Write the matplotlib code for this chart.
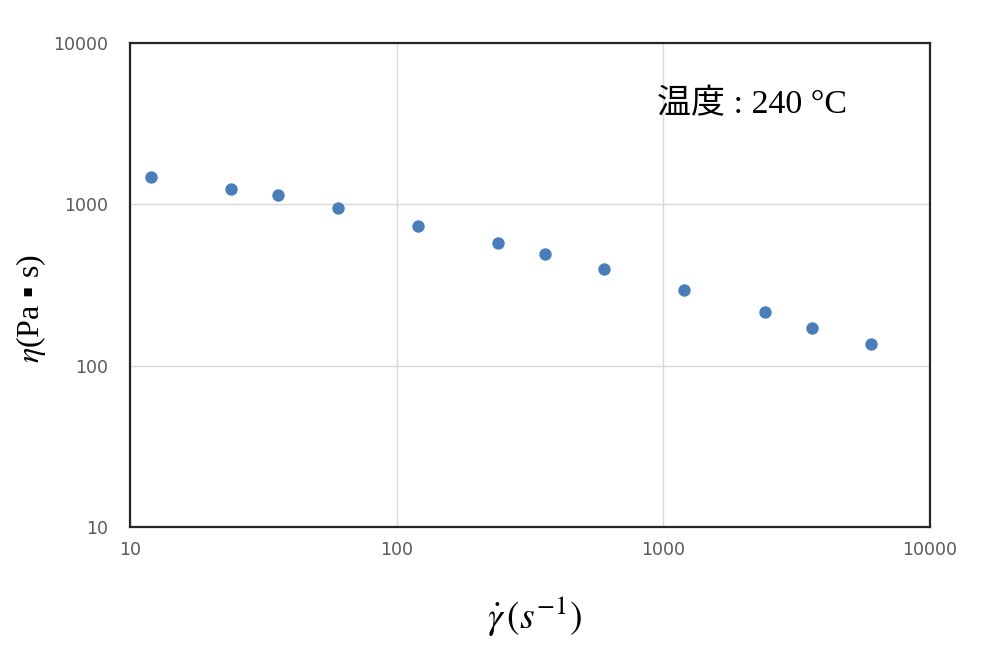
import matplotlib
matplotlib.use("Agg")
import matplotlib.pyplot as plt
from matplotlib.ticker import FixedLocator, NullLocator, FixedFormatter

# shear rate (1/s) and viscosity (Pa s)
shear_rate = [12, 24, 36, 60, 120, 240, 360, 600, 1200, 2400, 3600, 6000]
viscosity = [1477, 1244, 1142, 948, 734, 575, 492, 397, 294, 215, 171, 136]
ticks = [10, 100, 1000, 10000]
tick_labels = ["10", "100", "1000", "10000"]

plt.rcParams['mathtext.fontset'] = 'stix'

fig = plt.figure(figsize=(10, 6.45), dpi=100)
ax = fig.add_axes([0.13, 0.183, 0.80, 0.7505])

ax.scatter(shear_rate, viscosity, s=80, color="#4a7ebb", zorder=3, linewidths=0)

ax.set_xscale("log")
ax.set_yscale("log")
ax.set_xlim(10, 10000)
ax.set_ylim(10, 10000)
for a in (ax.xaxis, ax.yaxis):
    a.set_major_locator(FixedLocator(ticks))
    a.set_major_formatter(FixedFormatter(tick_labels))
    a.set_minor_locator(NullLocator())
ax.tick_params(length=0, labelsize=12.5, labelcolor="#595959")
ax.tick_params(axis="y", pad=16)
ax.tick_params(axis="x", pad=10)
ax.grid(True, color="#d9d9d9", lw=1)
ax.set_axisbelow(True)
for sp in ax.spines.values():
    sp.set_color("#262626")
    sp.set_linewidth(1.6)

ax.set_ylabel(r"$\eta$(Pa ▪ s)", fontsize=23, family=["Liberation Serif", "DejaVu Serif"])
ax.yaxis.set_label_coords(-0.102, 0.452)
ax.set_xlabel(r"$\dot{\gamma}\,(s^{-1})$", fontsize=27)
ax.xaxis.set_label_coords(0.506, -0.14)

ax.text(0.659, 0.873, "温度 : 240 °C", transform=ax.transAxes, fontsize=24.5,
        family=["Liberation Serif", "Noto Sans CJK JP"], va="center")

fig.savefig("out.png", dpi=100)
